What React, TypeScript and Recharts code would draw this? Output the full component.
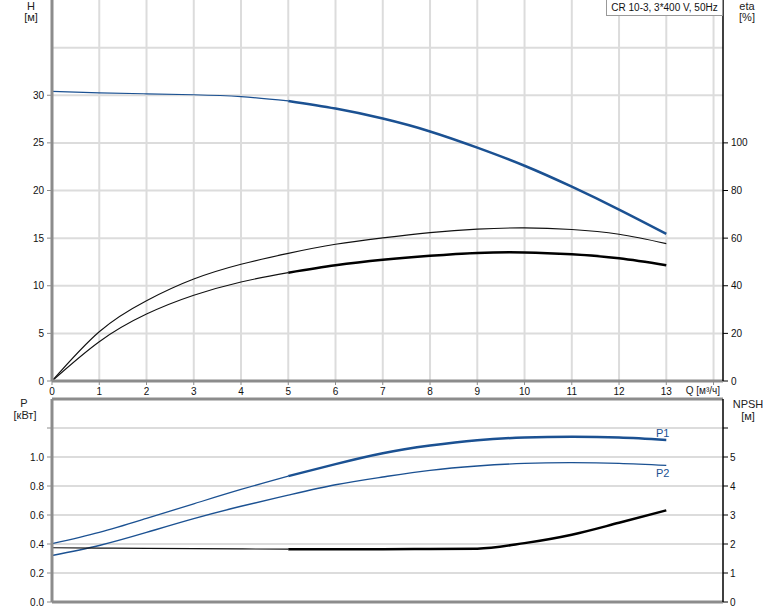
import React from "react";
import {
  ComposedChart,
  Line,
  XAxis,
  YAxis,
  CartesianGrid,
  ReferenceLine,
} from "recharts";

// Flow rate Q [m³/h]
const Q = [0, 1, 2, 3, 4, 5, 6, 7, 8, 9, 10, 11, 12, 13];
// Head H [m]
const H = [30.4, 30.25, 30.15, 30.05, 29.85, 29.4, 28.6, 27.55, 26.2, 24.5, 22.6, 20.4, 18.0, 15.45];
// Efficiency eta [%] – pump and total
const ETA_PUMP = [0, 20.7, 33.7, 42.8, 49.0, 53.6, 57.4, 60.1, 62.3, 63.8, 64.3, 63.6, 61.6, 57.7];
const ETA_TOTAL = [0, 16.5, 28.1, 36.0, 41.6, 45.5, 48.6, 50.9, 52.6, 53.8, 54.0, 53.2, 51.5, 48.6];
// Power [kW]
const P1 = [0.402, 0.48, 0.577, 0.677, 0.776, 0.868, 0.951, 1.026, 1.079, 1.116, 1.134, 1.139, 1.134, 1.118];
const P2 = [0.321, 0.39, 0.48, 0.575, 0.66, 0.737, 0.809, 0.862, 0.908, 0.938, 0.956, 0.961, 0.956, 0.942];
// NPSH [m]
const NPSH = [1.87, 1.86, 1.85, 1.84, 1.83, 1.82, 1.82, 1.82, 1.83, 1.84, 2.03, 2.32, 2.73, 3.16];

const Q_TICKS = [0, 1, 2, 3, 4, 5, 6, 7, 8, 9, 10, 11, 12, 13, 14];
const H_TICKS = [0, 5, 10, 15, 20, 25, 30];
const H_GRID = [5, 10, 15, 20, 25, 30, 35];
const ETA_TICKS = [0, 20, 40, 60, 80, 100];
const P_TICKS = [0, 0.2, 0.4, 0.6, 0.8, 1.0, 1.2];
const NPSH_TICKS = [0, 1, 2, 3, 4, 5, 6];

const SPLIT = 5; // duty range starts here (thick lines)

const data = Q.map((q, i) => ({
  q,
  hA: q <= SPLIT ? H[i] : null,
  hB: q >= SPLIT ? H[i] : null,
  etaP: ETA_PUMP[i],
  etaTA: q <= SPLIT ? ETA_TOTAL[i] : null,
  etaTB: q >= SPLIT ? ETA_TOTAL[i] : null,
  p1A: q <= SPLIT ? P1[i] : null,
  p1B: q >= SPLIT ? P1[i] : null,
  p2: P2[i],
  npA: q <= SPLIT ? NPSH[i] : null,
  npB: q >= SPLIT ? NPSH[i] : null,
}));

const BLUE = "#1b5192";
const GRID = "#dcdcdc";
const AXIS_GRAY = "#8c8c8c";
const TICK = { fontSize: 10, fill: "#111" };

const txt = (extra: React.CSSProperties): React.CSSProperties => ({
  position: "absolute",
  fontSize: 10,
  lineHeight: "12px",
  color: "#222",
  whiteSpace: "nowrap",
  ...extra,
});

export default function App() {
  return (
    <div
      style={{
        position: "absolute",
        left: 0,
        top: 0,
        width: 774,
        height: 611,
        background: "#fff",
        fontFamily: "'Liberation Sans', Arial, sans-serif",
      }}
    >
      {/* Top chart: H and eta */}
      <div style={{ position: "absolute", left: 0, top: 0 }}>
        <ComposedChart
          width={774}
          height={400}
          data={data}
          margin={{ top: 0, right: 0, bottom: 0, left: 0 }}
        >
          <CartesianGrid
            stroke={GRID}
            strokeWidth={2}
            horizontalValues={H_GRID}
            verticalValues={Q_TICKS}
          />
          <XAxis
            type="number"
            dataKey="q"
            domain={[0, 14.2]}
            ticks={Q_TICKS}
            tickFormatter={(v: number) => (v === 14 ? "" : String(v))}
            height={19}
            tickSize={4}
            tickMargin={3}
            tick={TICK}
            axisLine={{ stroke: AXIS_GRAY, strokeWidth: 3 }}
            tickLine={{ stroke: AXIS_GRAY }}
          />
          <YAxis
            domain={[0, 40]}
            ticks={H_TICKS}
            width={52}
            tickSize={5}
            tickMargin={3}
            tick={TICK}
            axisLine={{ stroke: AXIS_GRAY, strokeWidth: 3 }}
            tickLine={{ stroke: AXIS_GRAY }}
          />
          <YAxis
            yAxisId="r"
            orientation="right"
            domain={[0, 160]}
            ticks={ETA_TICKS}
            width={51}
            tickSize={5}
            tickMargin={3}
            tick={TICK}
            axisLine={{ stroke: "#000", strokeWidth: 1.5 }}
            tickLine={{ stroke: "#000" }}
          />
          <Line type="natural" dataKey="hA" stroke={BLUE} strokeWidth={1.2} dot={false} isAnimationActive={false} />
          <Line type="natural" dataKey="hB" stroke={BLUE} strokeWidth={2.5} dot={false} isAnimationActive={false} />
          <Line yAxisId="r" type="natural" dataKey="etaP" stroke="#111" strokeWidth={1.1} dot={false} isAnimationActive={false} />
          <Line yAxisId="r" type="natural" dataKey="etaTA" stroke="#111" strokeWidth={1.1} dot={false} isAnimationActive={false} />
          <Line yAxisId="r" type="natural" dataKey="etaTB" stroke="#000" strokeWidth={2.5} dot={false} isAnimationActive={false} />
        </ComposedChart>
      </div>

      {/* Bottom chart: P and NPSH */}
      <div style={{ position: "absolute", left: 0, top: 390 }}>
        <ComposedChart
          width={774}
          height={221}
          data={data}
          margin={{ top: 9, right: 0, bottom: 0, left: 0 }}
        >
          <CartesianGrid stroke={GRID} strokeWidth={2} verticalValues={Q_TICKS} />
          <XAxis
            type="number"
            dataKey="q"
            domain={[0, 14.2]}
            ticks={Q_TICKS}
            height={9}
            tick={false}
            tickLine={false}
            axisLine={{ stroke: AXIS_GRAY, strokeWidth: 3 }}
          />
          <YAxis
            domain={[0, 1.4]}
            ticks={P_TICKS}
            tickFormatter={(v: number) => (v > 1.1 ? "" : v.toFixed(1))}
            width={52}
            tickSize={5}
            tickMargin={3}
            tick={TICK}
            axisLine={{ stroke: AXIS_GRAY, strokeWidth: 3 }}
            tickLine={{ stroke: AXIS_GRAY }}
          />
          <YAxis
            yAxisId="r"
            orientation="right"
            domain={[0, 7]}
            ticks={NPSH_TICKS}
            tickFormatter={(v: number) => (v === 6 ? "" : String(v))}
            width={51}
            tickSize={5}
            tickMargin={2}
            tick={TICK}
            axisLine={{ stroke: "#000", strokeWidth: 1.5 }}
            tickLine={{ stroke: "#000" }}
          />
          <ReferenceLine y={1.4} stroke={AXIS_GRAY} strokeWidth={3} />
          <Line type="natural" dataKey="p1A" stroke={BLUE} strokeWidth={1.3} dot={false} isAnimationActive={false} />
          <Line type="natural" dataKey="p1B" stroke={BLUE} strokeWidth={2.5} dot={false} isAnimationActive={false} />
          <Line type="natural" dataKey="p2" stroke={BLUE} strokeWidth={1.4} dot={false} isAnimationActive={false} />
          <Line yAxisId="r" type="monotone" dataKey="npA" stroke="#111" strokeWidth={1.2} dot={false} isAnimationActive={false} />
          <Line yAxisId="r" type="monotone" dataKey="npB" stroke="#000" strokeWidth={2.5} dot={false} isAnimationActive={false} />
        </ComposedChart>
      </div>

      {/* Axis titles */}
      <div style={txt({ left: 16, width: 30, textAlign: "center", top: 0, fontSize: 11 })}>H</div>
      <div style={txt({ left: 16, width: 30, textAlign: "center", top: 11, fontSize: 11 })}>[м]</div>
      <div style={txt({ left: 732, width: 30, textAlign: "center", top: 0, fontSize: 11 })}>eta</div>
      <div style={txt({ left: 732, width: 30, textAlign: "center", top: 11, fontSize: 11 })}>[%]</div>
      <div style={txt({ left: 9, width: 30, textAlign: "center", top: 397, fontSize: 11 })}>P</div>
      <div style={txt({ left: 10, width: 30, textAlign: "center", top: 409, fontSize: 11 })}>[кВт]</div>
      <div style={txt({ left: 728, width: 40, textAlign: "center", top: 398, fontSize: 11 })}>NPSH</div>
      <div style={txt({ left: 728, width: 40, textAlign: "center", top: 410, fontSize: 11 })}>[м]</div>
      <div style={txt({ left: 680, width: 40, textAlign: "right", top: 385 })}>Q [м³/ч]</div>

      {/* Series labels */}
      <div style={txt({ left: 656, top: 427, color: BLUE, fontSize: 11 })}>P1</div>
      <div style={txt({ left: 656, top: 467, color: BLUE, fontSize: 11 })}>P2</div>

      {/* Title box */}
      <div
        style={{
          position: "absolute",
          left: 606,
          top: -1,
          width: 115,
          height: 15,
          border: "1px solid #999",
          background: "#fff",
          fontSize: 10,
          lineHeight: "15px",
          color: "#111",
          textAlign: "center",
          whiteSpace: "nowrap",
        }}
      >
        CR 10-3, 3*400 V, 50Hz
      </div>
    </div>
  );
}
